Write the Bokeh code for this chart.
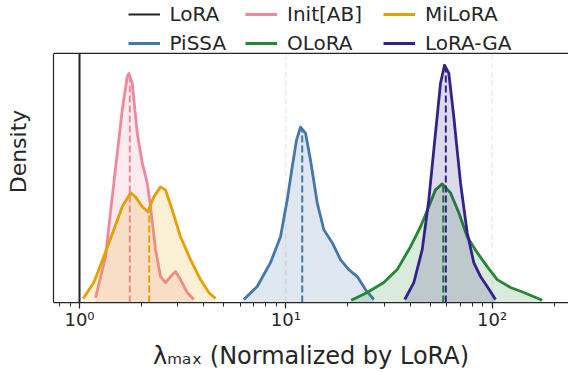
import numpy as np
from bokeh.plotting import figure
from bokeh.models import (Range1d, FixedTicker, CustomJSTickFormatter, Legend, LegendItem,
                          Span)
from bokeh.embed import file_html
from bokeh.resources import INLINE

# ---------------- data ----------------
methods = ["LoRA", "Init[AB]", "MiLoRA", "PiSSA", "OLoRA", "LoRA-GA"]
colors = ["#222222", "#F0889C", "#E69F00", "#4477AA", "#228833", "#332288"]

lora_value = 1.0

init_x = [1.196, 1.337, 1.467, 1.611, 1.703, 1.734, 1.801, 1.905, 2.014, 2.129, 2.209,
          2.336, 2.470, 2.611, 2.761, 2.920, 3.087, 3.327, 3.581]
init_y = [0.019, 0.184, 0.48, 0.772, 0.905, 0.919, 0.88, 0.68, 0.56, 0.48, 0.384,
          0.212, 0.104, 0.08, 0.104, 0.124, 0.092, 0.04, 0.012]

milora_x = [1.042, 1.173, 1.311, 1.467, 1.611, 1.767, 1.868, 2.014, 2.143, 2.292, 2.470,
            2.611, 2.814, 3.087, 3.452, 3.860, 4.235, 4.563]
milora_y = [0.016, 0.08, 0.184, 0.292, 0.384, 0.44, 0.424, 0.384, 0.364, 0.424, 0.464,
            0.452, 0.372, 0.264, 0.172, 0.092, 0.04, 0.016]

pissa_x = [6.257, 7.268, 8.428, 9.426, 10.16, 10.74, 11.27, 11.78, 12.46, 13.17, 14.20,
           15.29, 16.79, 18.41, 20.20, 22.19, 24.34, 26.71]
pissa_y = [0.012, 0.064, 0.16, 0.264, 0.412, 0.544, 0.652, 0.704, 0.68, 0.572, 0.40,
           0.292, 0.24, 0.172, 0.132, 0.104, 0.052, 0.012]

olora_x = [20.75, 24.81, 29.86, 34.67, 40.23, 44.98, 49.34, 53.15, 57.30, 62.86, 68.97,
           75.74, 84.68, 94.69, 105.9, 122.8, 142.5, 175.0]
olora_y = [0.009, 0.04, 0.08, 0.132, 0.224, 0.304, 0.384, 0.452, 0.476, 0.44, 0.36,
           0.264, 0.20, 0.144, 0.092, 0.06, 0.04, 0.009]

loraga_x = [37.74, 41.74, 45.84, 49.34, 53.15, 56.23, 58.79, 61.68, 65.23, 70.29, 75.74,
            81.52, 87.86, 94.69, 103.9]
loraga_y = [0.012, 0.08, 0.212, 0.412, 0.68, 0.88, 0.952, 0.92, 0.744, 0.48, 0.28,
            0.16, 0.104, 0.064, 0.012]

medians = [1.753, 2.177, 12.01, 57.94, 59.65]   # Init[AB], MiLoRA, PiSSA, OLoRA, LoRA-GA

major_ticks = [1, 10, 100]
minor_ticks = [0.8, 0.9, 2, 3, 4, 5, 6, 7, 8, 9, 20, 30, 40, 50, 60, 70, 80, 90, 200]
tick_labels = ["10⁰", "10¹", "10²"]
x_label = "λₘₐₓ (Normalized by LoRA)"
y_label = "Density"

# ---------------- figure ----------------
INK = "#262626"
FONT = "DejaVu Sans"
Y_TOP = 1.0            # top of the density axes
Y_VIEW = 1.212         # extra room above the axes for the legend

p = figure(width=568, height=372, x_axis_type="log", output_backend="svg",
           toolbar_location=None, x_range=Range1d(0.748, 234.6),
           y_range=Range1d(0, Y_VIEW),
           min_border_left=53, min_border_right=0, min_border_top=0, min_border_bottom=69)
p.outline_line_color = None
p.background_fill_color = "white"
p.border_fill_color = "white"
p.xgrid.visible = False
p.ygrid.visible = False

# light dashed vertical grid lines at the major ticks (only inside the axes box)
p.segment(x0=major_ticks, y0=0, x1=major_ticks, y1=Y_TOP, line_color="#e4e4e4",
          line_width=1, line_dash="6 3")

# x axis
xa = p.xaxis[0]
xa.ticker = FixedTicker(ticks=major_ticks, minor_ticks=minor_ticks)
lab_map = "{" + ",".join(f"'{t}':'{l}'" for t, l in zip(major_ticks, tick_labels)) + "}"
xa.formatter = CustomJSTickFormatter(code=f"const m = {lab_map}; return m[String(tick)] || '';")
xa.axis_line_color = INK
xa.axis_line_width = 1.25
xa.major_tick_line_color = INK
xa.minor_tick_line_color = INK
xa.major_tick_line_width = 1.25
xa.minor_tick_line_width = 1.0
xa.major_tick_in = 0
xa.major_tick_out = 6
xa.minor_tick_in = 0
xa.minor_tick_out = 4
xa.major_label_text_font = FONT
xa.major_label_text_font_size = "18px"
xa.major_label_text_color = INK
xa.major_label_standoff = 0
xa.axis_label = x_label
xa.axis_label_text_font = FONT
xa.axis_label_text_font_size = "24px"
xa.axis_label_text_font_style = "normal"
xa.axis_label_text_color = INK
xa.axis_label_standoff = 9

# y axis: only the spine + label, limited to the axes box
ya = p.yaxis[0]
ya.ticker = FixedTicker(ticks=[], minor_ticks=[])
ya.bounds = (0, Y_TOP)
ya.axis_line_color = INK
ya.axis_line_width = 1.25
ya.major_tick_out = 0
ya.minor_tick_out = 0
ya.major_label_text_font_size = "0px"
ya.axis_label = y_label
ya.axis_label_text_font = FONT
ya.axis_label_text_font_size = "22px"
ya.axis_label_text_font_style = "normal"
ya.axis_label_text_color = INK
ya.axis_label_standoff = 23

# top spine
p.add_layout(Span(location=Y_TOP, dimension="width", line_color=INK, line_width=1.25))

# ---------------- glyphs ----------------
renderers = {}
r = p.line(x=[lora_value, lora_value], y=[0, Y_TOP], line_color=colors[0], line_width=2)
renderers["LoRA"] = r

series = [("Init[AB]", init_x, init_y), ("MiLoRA", milora_x, milora_y),
          ("PiSSA", pissa_x, pissa_y), ("OLoRA", olora_x, olora_y),
          ("LoRA-GA", loraga_x, loraga_y)]
for i, (name, xs, ys) in enumerate(series):
    c = colors[i + 1]
    p.varea(x=xs, y1=0, y2=ys, fill_color=c, fill_alpha=0.17)
    r = p.line(x=xs, y=ys, line_color=c, line_width=2.8, line_join="round")
    renderers[name] = r
    med = medians[i]
    h = float(np.interp(np.log10(med), np.log10(xs), ys))
    p.segment(x0=[med], y0=[0], x1=[med], y1=[h], line_color=c, line_width=2,
              line_dash="7 3")

# ---------------- legend (3 columns x 2 rows, above the axes box) ----------------
cols = [["LoRA", "PiSSA"], ["Init[AB]", "OLoRA"], ["MiLoRA", "LoRA-GA"]]
col_x = [74.5, 192, 330]
for names, lx in zip(cols, col_x):
    lg = Legend(items=[LegendItem(label=n, renderers=[renderers[n]]) for n in names],
                location=(lx, 247), orientation="vertical",
                padding=0, margin=0, spacing=5, glyph_width=32, glyph_height=24,
                label_height=24, label_standoff=10, border_line_alpha=0,
                background_fill_alpha=0, label_text_font=FONT,
                label_text_font_size="20px", label_text_color=INK)
    p.add_layout(lg)

open("out.html", "w").write(file_html(p, INLINE))
